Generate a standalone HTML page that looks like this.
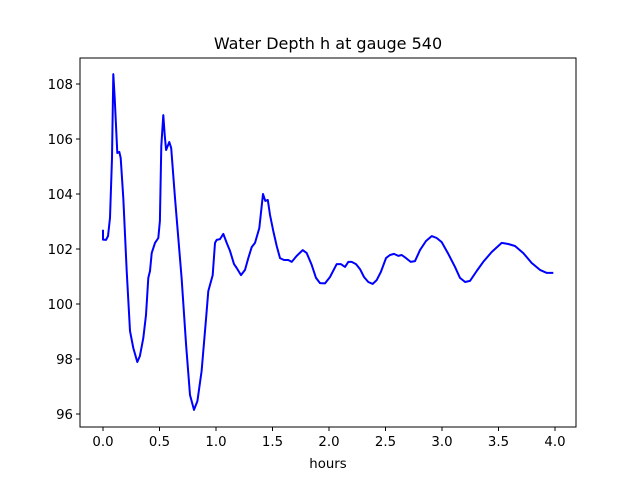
<!DOCTYPE html>
<html><head><meta charset="utf-8"><style>
body{margin:0;background:#fff;}
svg{display:block;font-family:"DejaVu Sans","Liberation Sans",sans-serif;}
</style></head><body>
<svg id="chart" width="640" height="480" viewBox="0 0 640 480">
<rect width="640" height="480" fill="#fff"/>
<text x="328" y="49" text-anchor="middle" font-size="16">Water Depth h at gauge 540</text>
<g id="xt"></g>
<g id="yt"></g>
<path id="line" fill="none" stroke="#0000ff" stroke-width="2" stroke-linejoin="round"/>
<rect x="80" y="58" width="496" height="369" fill="none" stroke="#000" stroke-width="1"/>
<text x="328" y="468" text-anchor="middle" font-size="13.3">hours</text>
</svg>
<script>
const hours=[0.0,0.0,0.027,0.044,0.062,0.080,0.091,0.104,0.127,0.144,0.157,0.180,0.210,0.239,0.268,0.304,0.327,0.357,0.381,0.401,0.416,0.431,0.460,0.489,0.504,0.516,0.534,0.546,0.558,0.587,0.604,0.637,0.666,0.696,0.735,0.770,0.805,0.835,0.873,0.912,0.932,0.971,0.991,1.006,1.035,1.065,1.095,1.124,1.159,1.183,1.221,1.257,1.286,1.316,1.345,1.383,1.416,1.436,1.458,1.478,1.507,1.537,1.566,1.602,1.640,1.670,1.714,1.767,1.803,1.847,1.885,1.920,1.965,2.009,2.068,2.104,2.142,2.171,2.201,2.239,2.274,2.310,2.348,2.387,2.422,2.458,2.504,2.540,2.575,2.613,2.643,2.681,2.723,2.761,2.805,2.858,2.909,2.953,2.997,3.056,3.115,3.159,3.204,3.248,3.307,3.365,3.440,3.528,3.587,3.646,3.719,3.794,3.867,3.927,3.985];
const depth=[102.70,102.34,102.33,102.47,103.13,105.31,108.36,107.49,105.49,105.53,105.31,103.85,101.20,99.02,98.40,97.89,98.11,98.76,99.60,100.95,101.20,101.85,102.22,102.40,103.02,105.75,106.87,106.15,105.60,105.89,105.67,103.85,102.40,100.95,98.51,96.69,96.15,96.47,97.56,99.49,100.47,101.05,102.22,102.33,102.36,102.55,102.22,101.93,101.45,101.31,101.05,101.24,101.67,102.07,102.22,102.76,104.00,103.75,103.78,103.24,102.65,102.11,101.67,101.60,101.60,101.53,101.75,101.96,101.85,101.42,100.95,100.76,100.75,100.98,101.45,101.45,101.35,101.53,101.53,101.45,101.27,100.98,100.80,100.73,100.87,101.16,101.67,101.78,101.82,101.75,101.78,101.67,101.53,101.56,101.96,102.29,102.47,102.40,102.25,101.82,101.35,100.95,100.80,100.84,101.20,101.53,101.89,102.22,102.18,102.11,101.85,101.49,101.24,101.13,101.13];
const xTicks=[0,0.5,1,1.5,2,2.5,3,3.5,4];
const xTickLabels=["0.0","0.5","1.0","1.5","2.0","2.5","3.0","3.5","4.0"];
const yTicks=[96,98,100,102,104,106,108];
const yTickLabels=["96","98","100","102","104","106","108"];
const X0=80,X1=576,Y0=58,Y1=427;
const xMin=-0.2035,xMax=4.1858,yMin=95.527,yMax=108.945;
const sx=v=>X0+(v-xMin)/(xMax-xMin)*(X1-X0);
const sy=v=>Y1-(v-yMin)/(yMax-yMin)*(Y1-Y0);
const NS="http://www.w3.org/2000/svg";
const xt=document.getElementById('xt'),yt=document.getElementById('yt');
xTicks.forEach((t,i)=>{
  const l=document.createElementNS(NS,'line');
  
  
  l.setAttribute('x1',sx(t));l.setAttribute('x2',sx(t));l.setAttribute('y1',Y1);l.setAttribute('y2',Y1+4);l.setAttribute('stroke','#000');
  xt.appendChild(l);
  const tx=document.createElementNS(NS,'text');
  
  
  tx.setAttribute('x',sx(t));tx.setAttribute('y',Y1+19);tx.setAttribute('text-anchor','middle');tx.setAttribute('font-size','13.3');
  tx.textContent=xTickLabels[i];xt.appendChild(tx);
});
yTicks.forEach((t,i)=>{
  const l=document.createElementNS(NS,'line');
  
  
  l.setAttribute('x1',X0-4);l.setAttribute('x2',X0);l.setAttribute('y1',sy(t));l.setAttribute('y2',sy(t));l.setAttribute('stroke','#000');
  yt.appendChild(l);
  const tx=document.createElementNS(NS,'text');
  
  
  tx.setAttribute('x',X0-7);tx.setAttribute('y',sy(t)+5);tx.setAttribute('text-anchor','end');tx.setAttribute('font-size','13.3');
  tx.textContent=yTickLabels[i];yt.appendChild(tx);
});
document.getElementById('line').setAttribute('d',hours.map((h,i)=>(i?'L':'M')+sx(h).toFixed(1)+','+sy(depth[i]).toFixed(1)).join(''));
</script>
</body></html>
